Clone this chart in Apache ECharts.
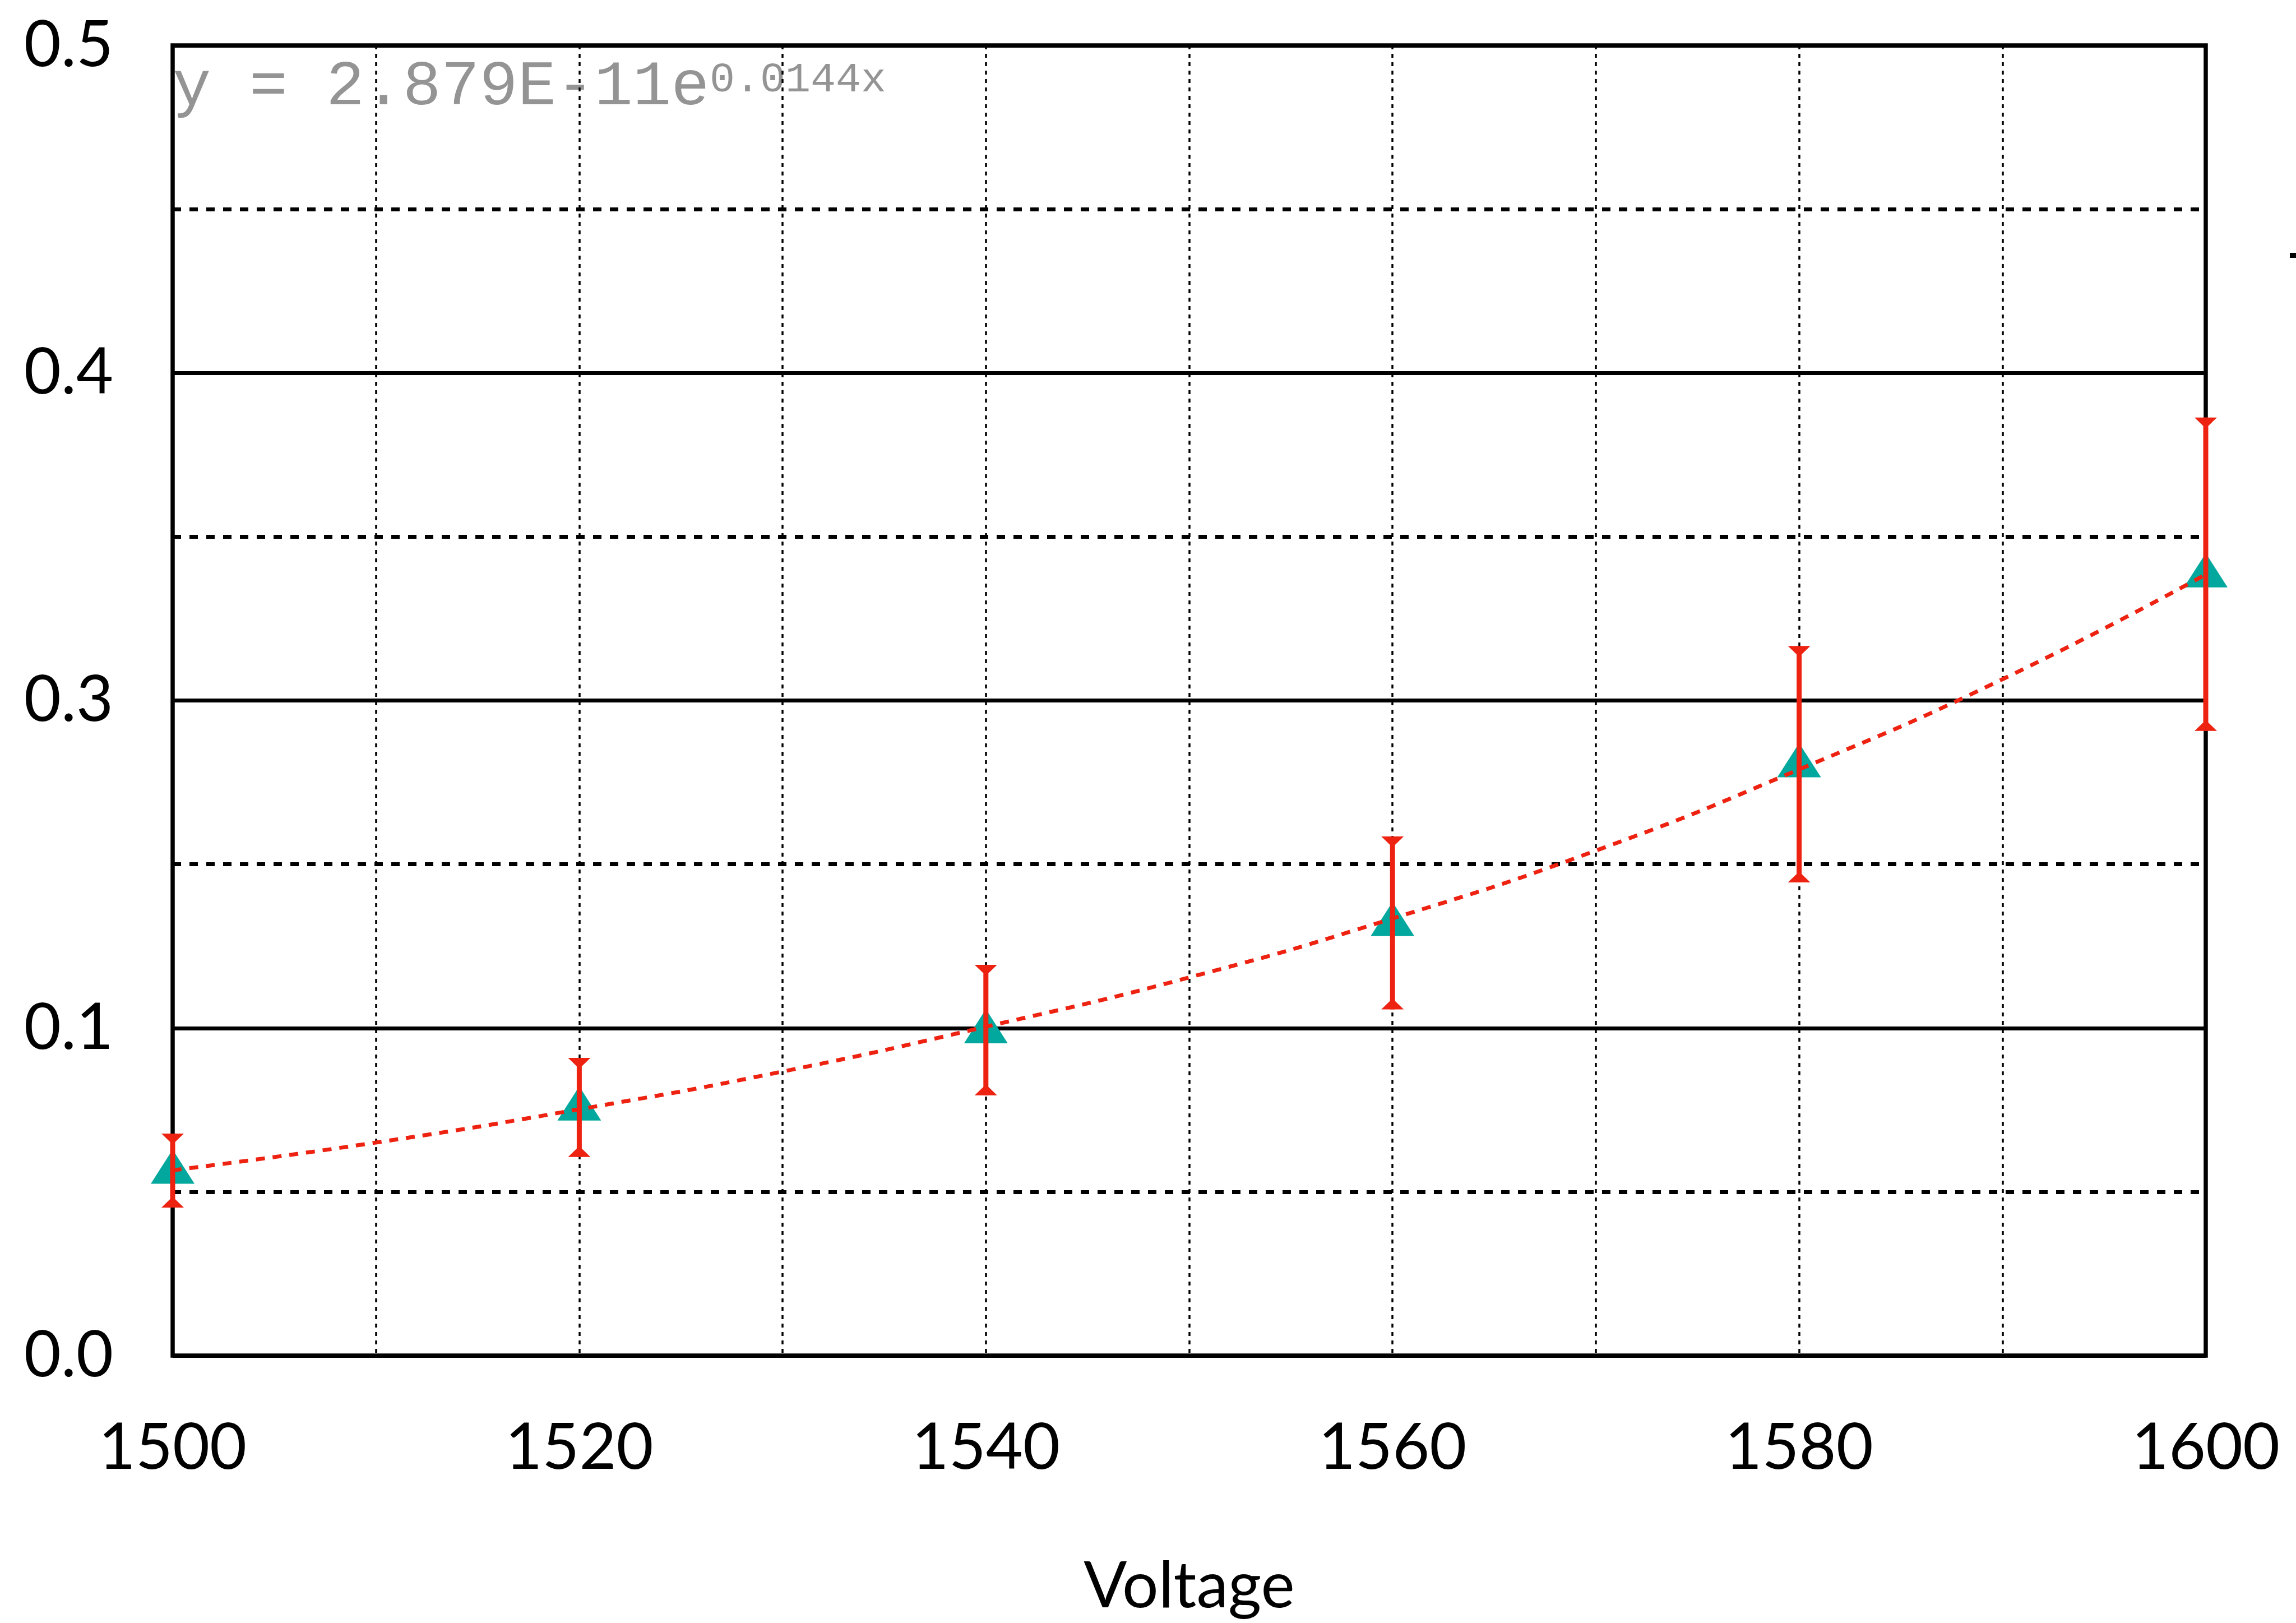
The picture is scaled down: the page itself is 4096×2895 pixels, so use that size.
<!DOCTYPE html>
<html lang="en" style="height: 100%">
<head>
    <meta charset="UTF-8">
    <title>Voltage</title>
    <script src="https://cdn.jsdelivr.net/npm/echarts@6/dist/echarts.min.js"></script>
</head>
<body style="height: 100%; margin: 0; background: #fff">
<div id="main" style="width: 4096px; height: 2895px"></div>
<script>
    // measured points: voltage, mean and +/- error
    var voltages = [1500, 1520, 1540, 1560, 1580, 1600];
    var means = [0.0706, 0.0947, 0.1242, 0.1651, 0.2257, 0.2982];
    var errors = [0.0141, 0.0189, 0.0249, 0.0330, 0.0451, 0.0598];

    // exponential trend line, every 10 V
    var trendX = [1500, 1510, 1520, 1530, 1540, 1550, 1560, 1570, 1580, 1590, 1600];
    var trendY = [0.0707, 0.0813, 0.0940, 0.1084, 0.1255, 0.1443, 0.1668, 0.1927, 0.2237, 0.2581, 0.2981];

    // y ticks sit at 0.125 steps but the labels are printed with one decimal
    var yTickLabels = ['0.0', '0.1', '0.3', '0.4', '0.5'];
    var equation = ['y = 2.879E-11e', '0.0144x'];

    var red = '#EE2211';
    var teal = '#02A89E';
    var labelFont = 'Lato';

    function renderErrorBar(params, api) {
        var x = api.value(0), y = api.value(1), e = api.value(2);
        var top = api.coord([x, y + e]);
        var bot = api.coord([x, y - e]);
        var half = 4.5, capHalf = 20, capH = 15;
        var style = {fill: red};
        return {
            type: 'group',
            children: [
                {type: 'rect', shape: {x: top[0] - half, y: top[1], width: half * 2, height: bot[1] - top[1]}, style: style},
                {type: 'polygon', shape: {points: [[top[0] - capHalf, top[1]], [top[0] + capHalf, top[1]],
                    [top[0] + half, top[1] + capH], [top[0] - half, top[1] + capH]]}, style: style},
                {type: 'polygon', shape: {points: [[bot[0] - capHalf, bot[1]], [bot[0] + capHalf, bot[1]],
                    [bot[0] + half, bot[1] - capH], [bot[0] - half, bot[1] - capH]]}, style: style}
            ]
        };
    }

    var myoption = {
        backgroundColor: '#fff',
        animation: false,
        grid: {
            left: 308, right: 161, top: 81, bottom: 477,
            show: true, borderColor: '#000', borderWidth: 7.5,
            outerBoundsMode: 'none'
        },
        xAxis: {
            type: 'value', min: 1500, max: 1600, interval: 20,
            axisLine: {show: false},
            axisTick: {show: false},
            axisLabel: {
                margin: 108, fontSize: 114, fontFamily: labelFont, color: '#000',
                showMinLabel: true, showMaxLabel: true,
                formatter: function (v) {
                    return String(v);
                }
            },
            splitLine: {show: true, lineStyle: {color: '#000', width: 3.5, type: [7, 8]}},
            minorTick: {show: false, splitNumber: 2},
            minorSplitLine: {show: true, lineStyle: {color: '#000', width: 3.5, type: [7, 8]}},
            name: 'Voltage',
            nameLocation: 'middle',
            nameGap: 355,
            nameTextStyle: {fontSize: 114, fontFamily: labelFont, color: '#000'}
        },
        yAxis: {
            type: 'value', min: 0, max: 0.5, interval: 0.125,
            axisLine: {show: false},
            axisTick: {show: false},
            axisLabel: {
                margin: 106, fontSize: 114, fontFamily: labelFont, color: '#000',
                showMinLabel: true, showMaxLabel: true,
                formatter: function (v) {
                    return yTickLabels[Math.round(v / 0.125)];
                }
            },
            splitLine: {show: true, lineStyle: {color: '#000', width: 7}},
            minorTick: {show: false, splitNumber: 2},
            minorSplitLine: {show: true, lineStyle: {color: '#000', width: 7, type: [15, 15]}}
        },
        graphic: [
            {
                type: 'text', x: 308, y: 156, z: -1,
                style: {text: equation[0], font: '114px "Liberation Mono"', fill: '#949494', verticalAlign: 'middle'}
            },
            {
                type: 'text', x: 1266, y: 143, z: -1,
                style: {text: equation[1], font: '75px "Liberation Mono"', fill: '#949494', verticalAlign: 'middle'}
            },
            {
                type: 'rect', shape: {x: 4085, y: 451, width: 11, height: 9}, style: {fill: '#000'}
            }
        ],
        series: [
            {
                name: 'data',
                type: 'scatter',
                data: voltages.map(function (v, i) { return [v, means[i]]; }),
                symbol: 'triangle',
                symbolSize: [78, 61],
                symbolOffset: [0, -7],
                itemStyle: {color: teal, opacity: 1},
                z: 2
            },
            {
                name: 'trend',
                type: 'line',
                data: trendX.map(function (v, i) { return [v, trendY[i]]; }),
                smooth: true,
                showSymbol: false,
                symbol: 'none',
                lineStyle: {color: red, width: 7, type: [16, 14]},
                z: 3
            },
            {
                name: 'error',
                type: 'custom',
                renderItem: renderErrorBar,
                data: voltages.map(function (v, i) { return [v, means[i], errors[i]]; }),
                z: 4
            }
        ]
    };
    var myChart = echarts.init(document.getElementById('main'));
    myChart.setOption(myoption);
</script>
</body>
</html>
